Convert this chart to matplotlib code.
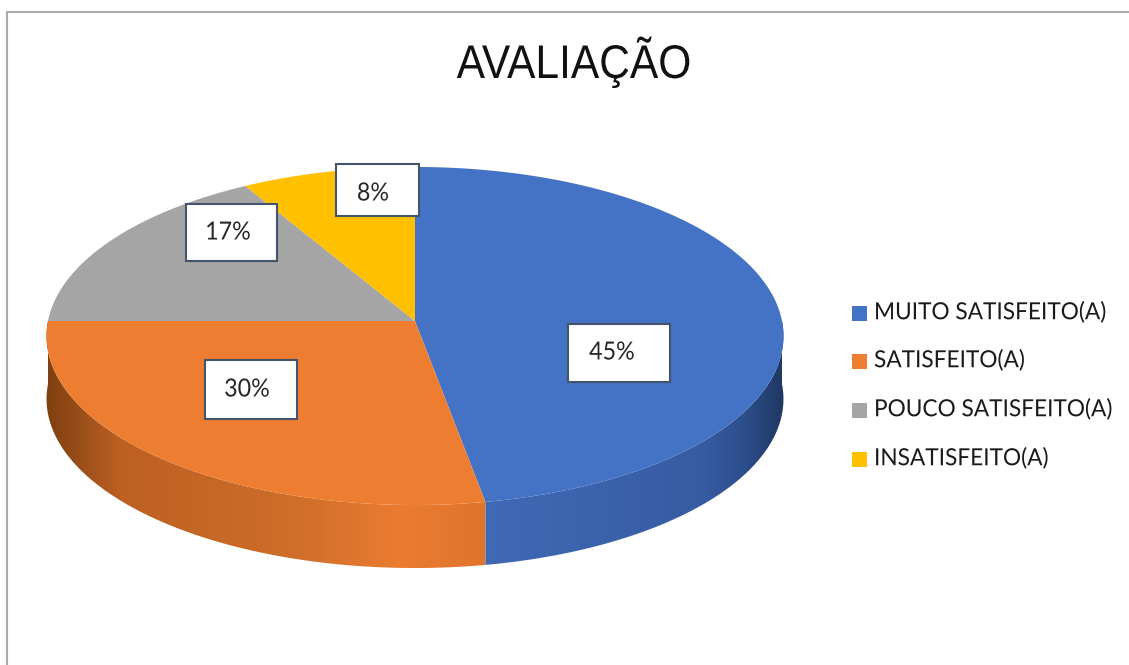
import numpy as np
import matplotlib
matplotlib.use('Agg')
import matplotlib.pyplot as plt
from matplotlib.patches import Rectangle, Polygon
from matplotlib.patheffects import AbstractPathEffect
from matplotlib.transforms import Affine2D

title = 'AVALIAÇÃO'
categories = ['MUITO SATISFEITO(A)', 'SATISFEITO(A)', 'POUCO SATISFEITO(A)', 'INSATISFEITO(A)']
# share of the circle each slice takes in the drawing
shares = [47.2, 27.8, 16.7, 8.3]
# the printed labels do not quite agree with the drawn slices
percent_labels = ['45%', '30%', '17%', '8%']
colors = ['#4472C4', '#ED7D31', '#A5A5A5', '#FFC000']

# layout, in pixels
cx, cy = 415, 321
rx = 367
persp = 0.0887
ry = 167.7
depth = 63

# label boxes: x0, y0, x1, y1, then text position
boxes = [(568, 324, 670, 382), (205, 360, 297, 419), (186, 204, 277, 261), (336, 164, 419, 216)]
box_text = [(612, 352), (247, 389), (228, 232), (373, 193)]
legend_y = [313.5, 361.5, 410.5, 459.5]

# side wall shading: x position -> colour, per slice
side_x = [47, 120, 300, 400, 484, 700, 740, 783]
blue_side = [(0x3F, 0x69, 0xB5), (0x3F, 0x69, 0xB5), (0x3F, 0x69, 0xB5), (0x3F, 0x69, 0xB5),
             (0x40, 0x6A, 0xB6), (0x36, 0x5C, 0xA3), (0x2E, 0x50, 0x8F), (0x1F, 0x38, 0x64)]
orange_side = [(0x7F, 0x40, 0x12), (0xBC, 0x60, 0x22), (0xD0, 0x6E, 0x2A), (0xEB, 0x7C, 0x31),
               (0xE0, 0x74, 0x2D), (0xE0, 0x74, 0x2D), (0xE0, 0x74, 0x2D), (0xE0, 0x74, 0x2D)]


class Condense(AbstractPathEffect):
    # squeeze a text sideways around x0 (pixels), no narrow font is installed
    def __init__(self, x0, sx):
        super().__init__()
        self.x0 = x0
        self.sx = sx

    def draw_path(self, renderer, gc, tpath, affine, rgbFace=None):
        squeeze = Affine2D().translate(-self.x0, 0).scale(self.sx, 1).translate(self.x0, 0)
        renderer.draw_path(gc, tpath, affine + squeeze, rgbFace)


def project(theta):
    # circle seen in perspective, the far side comes out smaller
    u = np.cos(theta)
    v = np.sin(theta)
    w = 1 + persp * v
    return cx + rx * u / w, cy - ry * v / w


plt.rcParams['font.family'] = ['Lato', 'DejaVu Sans']

fig = plt.figure(figsize=(11.29, 6.65), dpi=100)
ax = fig.add_axes([0, 0, 1, 1])

# chart border, only top and left show
ax.plot([6.8, 6.8, 1129], [665, 12, 12], color='#A9A9A9', lw=1.5, solid_joinstyle='miter')

# slice angles, clockwise from the top
edges = 90 - np.cumsum([0] + shares) * 3.6

# side wall first, front half only, a gradient image clipped to the wall shape
gx = np.arange(30, 800)
for i, side in enumerate([blue_side, orange_side]):
    a0 = min(np.radians(edges[i]), 0)
    a1 = max(np.radians(edges[i + 1]), -np.pi)
    x, y = project(np.linspace(a0, a1, 400))
    wall = Polygon(np.r_[np.c_[x, y], np.c_[x, y + depth][::-1]], closed=True, fc='none', ec='none',
                   transform=ax.transData)
    ax.add_patch(wall)
    grad = np.stack([np.interp(gx, side_x, [c[k] for c in side]) / 255 for k in range(3)], axis=-1)[None, :, :]
    im = ax.imshow(grad, extent=(30, 800, 600, 300), aspect='auto', zorder=2, interpolation='bilinear')
    im.set_clip_path(wall)

# top face
for i, c in enumerate(colors):
    t = np.radians(np.linspace(edges[i], edges[i + 1], 200))
    x, y = project(t)
    ax.fill(np.r_[cx, x], np.r_[cy, y], color=c, lw=0, zorder=3)

# data labels
for (x0, y0, x1, y1), (tx, ty), lab in zip(boxes, box_text, percent_labels):
    ax.add_patch(Rectangle((x0, y0), x1 - x0, y1 - y0, fc='white', ec='#44546A', lw=1.5, zorder=4))
    ax.text(tx, ty, lab, ha='center', va='center', fontsize=18, color='#262626', zorder=5,
            path_effects=[Condense(tx, 0.93)])

# legend
for name, c, ly in zip(categories, colors, legend_y):
    ax.add_patch(Rectangle((852, ly - 7.5), 15, 15, fc=c, ec='none'))
    ax.text(874, ly - 1, name, ha='left', va='center', fontsize=17, color='#1A1A1A',
            path_effects=[Condense(874, 0.96)])

ax.text(574, 78, title, ha='center', va='baseline', fontsize=34, color='#111111',
        family=['Liberation Sans', 'DejaVu Sans'], path_effects=[Condense(574, 0.90)])

ax.set_xlim(0, 1129)
ax.set_ylim(665, 0)
ax.axis('off')

fig.savefig('out.png', dpi=100)
